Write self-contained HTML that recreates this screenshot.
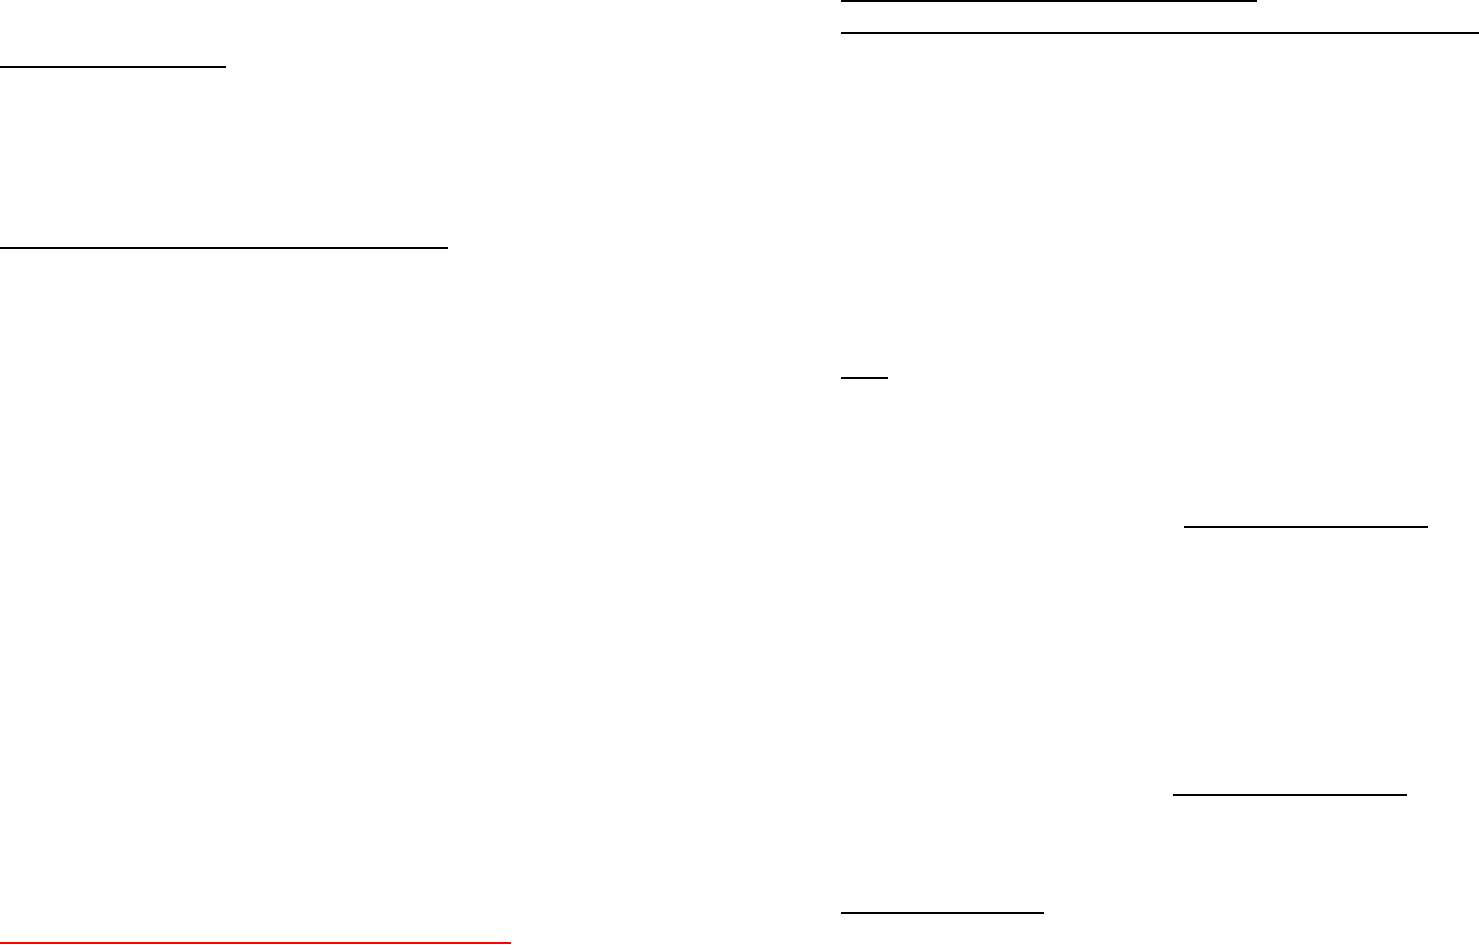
<!DOCTYPE html>
<html><head><meta charset="utf-8"><style>
html,body{margin:0;padding:0;background:#fff;width:1479px;height:945px;overflow:hidden;position:relative}
.l{position:absolute;height:2px;background:#000}
</style></head><body>
<div class="l" style="left:0;top:66px;width:226px"></div>
<div class="l" style="left:0;top:247px;width:448px"></div>
<div class="l" style="left:0;top:942px;width:511px;background:#f00"></div>
<div class="l" style="left:841px;top:0;width:416px"></div>
<div class="l" style="left:841px;top:32px;width:638px"></div>
<div class="l" style="left:841px;top:377px;width:47px"></div>
<div class="l" style="left:1184px;top:526px;width:244px"></div>
<div class="l" style="left:1173px;top:794px;width:234px"></div>
<div class="l" style="left:841px;top:912px;width:203px"></div>
</body></html>
